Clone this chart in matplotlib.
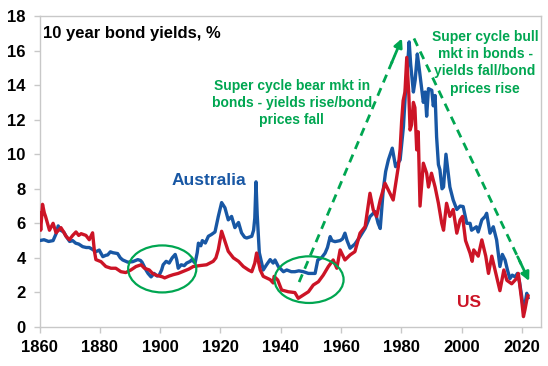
import matplotlib
matplotlib.use("Agg")
import matplotlib.pyplot as plt
from matplotlib.patches import Ellipse

plt.rcParams['font.family'] = ['Liberation Sans', 'DejaVu Sans']
plt.rcParams['font.weight'] = 'bold'

# ---------------- data ----------------
aus_years = [1860.0, 1861.5, 1863.0, 1864.5, 1865.5, 1866.2, 1867.0, 1868.0, 1869.0, 1870.0,
             1871.0, 1872.0, 1873.0, 1874.3, 1875.5, 1876.5, 1877.5, 1878.7, 1879.8, 1881.0,
             1882.0, 1882.6, 1883.5, 1884.3, 1885.9, 1886.8, 1887.6, 1889.3, 1890.9, 1892.6,
             1893.5, 1894.0, 1895.3, 1896.0, 1897.0, 1898.0, 1899.0, 1899.7, 1900.5, 1901.0,
             1902.0, 1903.0, 1904.0, 1905.0, 1905.5, 1906.0, 1907.0, 1908.0, 1908.8, 1910.0,
             1910.5, 1911.6, 1912.3, 1912.7, 1913.5, 1914.0, 1915.0, 1916.0, 1917.0, 1918.2,
             1919.3, 1920.4, 1921.5, 1922.6, 1923.7, 1924.8, 1926.0, 1927.0, 1928.0, 1928.7,
             1930.4, 1931.0, 1931.4, 1931.8, 1932.2, 1932.9, 1934.2, 1935.3, 1936.5, 1937.5,
             1938.1, 1939.2, 1940.9, 1942.0, 1943.5, 1944.7, 1946.0, 1947.5, 1949.2, 1951.4,
             1952.3, 1953.5, 1954.7, 1955.5, 1956.4, 1957.0, 1958.0, 1959.7, 1960.5, 1961.3,
             1962.0, 1963.0, 1964.6, 1966.3, 1968.0, 1969.6, 1971.3, 1972.3, 1973.0, 1974.0,
             1974.8, 1975.7, 1977.0, 1978.1, 1979.6, 1980.7, 1981.5, 1982.1, 1982.6, 1983.1,
             1984.0, 1984.6, 1985.3, 1985.9, 1986.6, 1987.3, 1987.9, 1988.4, 1989.0, 1990.1,
             1990.6, 1991.2, 1991.7, 1992.3, 1992.8, 1993.5, 1994.0, 1994.8, 1995.5, 1996.1,
             1997.2, 1998.4, 1999.5, 2000.5, 2001.7, 2002.8, 2003.3, 2004.9, 2005.5, 2006.7,
             2007.8, 2008.3, 2009.4, 2010.5, 2011.6, 2012.7, 2013.5, 2014.4, 2015.2, 2016.0,
             2016.8, 2017.7, 2018.5, 2019.2, 2019.9, 2020.5, 2021.0, 2021.6, 2022.0]
aus_vals = [5.0, 5.05, 4.95, 5.0, 5.4, 5.85, 5.6, 5.5, 5.2, 4.95,
            5.0, 4.85, 4.8, 4.65, 4.6, 4.6, 4.5, 4.36, 4.45, 4.07,
            4.15, 4.17, 4.35, 4.3, 4.25, 4.0, 3.88, 3.75, 3.78, 3.9,
            3.85, 3.75, 3.3, 3.1, 2.9, 3.1, 2.95, 3.0, 3.3, 3.6,
            3.8, 3.7, 4.0, 4.2, 3.9, 3.4, 3.6, 3.55, 3.7, 3.8,
            3.9, 3.7, 4.3, 4.85, 4.7, 5.0, 4.86, 5.25, 5.35, 5.5,
            6.4, 7.2, 6.9, 6.2, 6.4, 5.75, 6.05, 5.45, 5.2, 5.15,
            5.25, 5.6, 6.3, 8.4, 6.5, 4.3, 3.3, 3.6, 3.9, 3.7,
            3.88, 3.5, 3.2, 3.3, 3.2, 3.2, 3.25, 3.2, 3.1, 3.1,
            3.88, 4.0, 4.27, 4.6, 5.23, 5.0, 4.94, 5.0, 5.1, 5.43,
            5.0, 4.56, 4.8, 5.23, 5.71, 6.39, 6.68, 6.0, 5.7, 7.93,
            9.0, 9.67, 10.35, 9.28, 9.67, 11.6, 14.0, 15.2, 16.5, 15.2,
            13.6, 14.3, 15.8, 15.0, 14.0, 13.0, 13.6, 12.2, 13.8, 13.7,
            12.8, 13.4, 11.0, 9.4, 9.1, 8.0, 8.1, 10.0, 9.0, 8.1,
            7.35, 6.8, 7.0, 6.97, 6.0, 6.0, 5.6, 5.8, 5.5, 6.2,
            6.4, 6.58, 5.43, 5.8, 5.04, 3.5, 4.2, 3.88, 3.3, 2.8,
            3.0, 2.9, 3.1, 2.6, 1.8, 1.0, 1.3, 1.95, 1.7]

us_years = [1860.0, 1860.4, 1861.0, 1861.6, 1862.0, 1863.3, 1864.5, 1865.5, 1867.1, 1868.0,
            1868.8, 1869.9, 1871.0, 1872.1, 1873.0, 1873.8, 1875.4, 1876.5, 1877.6, 1878.2,
            1878.7, 1880.4, 1882.0, 1883.7, 1885.3, 1887.0, 1888.6, 1890.3, 1892.0, 1893.7,
            1894.8, 1896.4, 1897.5, 1898.6, 1900.8, 1901.5, 1903.0, 1904.4, 1906.0, 1907.7,
            1909.5, 1911.0, 1913.0, 1915.4, 1917.6, 1918.5, 1919.3, 1920.4, 1921.5, 1922.6,
            1924.3, 1926.0, 1927.6, 1929.3, 1930.4, 1931.4, 1932.0, 1933.2, 1934.2, 1936.5,
            1937.5, 1937.8, 1939.0, 1940.3, 1942.5, 1944.7, 1945.8, 1947.5, 1949.2, 1950.8,
            1952.5, 1954.1, 1955.8, 1957.4, 1958.6, 1959.7, 1961.3, 1963.0, 1964.6, 1966.3,
            1968.0, 1969.6, 1970.7, 1971.8, 1973.0, 1974.6, 1976.2, 1977.3, 1979.0, 1979.6,
            1980.1, 1980.6, 1981.2, 1981.8, 1982.5, 1982.9, 1983.4, 1984.0, 1984.5, 1985.1,
            1985.6, 1986.2, 1987.3, 1988.4, 1989.0, 1990.0, 1991.2, 1992.3, 1993.4, 1994.0,
            1995.0, 1996.1, 1997.2, 1998.4, 1999.5, 2000.3, 2001.3, 2002.8, 2003.5, 2004.0,
            2005.5, 2006.7, 2008.0, 2008.9, 2010.0, 2011.6, 2012.7, 2014.0, 2015.0, 2016.6,
            2018.3, 2018.8, 2019.9, 2020.5, 2021.0, 2021.6, 2022.0]
us_vals = [6.6, 5.6, 7.1, 6.6, 6.4, 5.6, 6.0, 5.45, 5.75, 5.5,
           5.25, 5.05, 5.3, 5.5, 5.3, 5.4, 5.3, 5.05, 5.45, 4.4,
           3.9, 3.78, 3.5, 3.4, 3.4, 3.2, 3.15, 3.3, 3.5, 3.6,
           3.4, 3.3, 3.1, 3.0, 2.9, 2.84, 2.95, 3.03, 3.1, 3.22,
           3.35, 3.5, 3.55, 3.6, 3.8, 4.0, 4.48, 5.54, 4.96, 4.38,
           4.0, 3.8, 3.5, 3.3, 3.2, 3.7, 4.28, 3.3, 2.93, 2.74,
           2.55, 2.93, 2.72, 2.14, 2.04, 1.99, 1.66, 1.85, 2.04, 2.43,
           2.62, 3.0, 3.5, 3.88, 3.4, 4.46, 3.88, 4.17, 4.36, 5.43,
           5.81, 7.74, 6.77, 6.4, 7.35, 8.32, 7.74, 7.35, 9.28, 10.3,
           11.9, 13.1, 13.6, 15.6, 13.4, 11.4, 11.7, 13.0, 12.7, 10.25,
           11.3, 7.0, 9.48, 8.9, 8.1, 8.9, 8.1, 7.16, 6.0, 5.6,
           7.16, 6.4, 6.8, 5.43, 6.2, 6.4, 5.0, 4.27, 3.8, 4.46,
           4.1, 5.04, 4.1, 3.1, 4.1, 2.9, 2.1, 3.3, 2.7, 2.5,
           2.82, 3.1, 1.56, 0.6, 1.0, 1.56, 1.8]

x_ticks = [1860, 1880, 1900, 1920, 1940, 1960, 1980, 2000, 2020]
y_ticks = [0, 2, 4, 6, 8, 10, 12, 14, 16, 18]

BLUE = '#1857A4'
RED = '#CC1426'
GREEN = '#00A651'
GRID = '#C8C8C8'

# ---------------- figure ----------------
fig = plt.figure(figsize=(5.48, 3.66), dpi=100)
ax = fig.add_axes([0.0721, 0.1066, 0.915, 0.8497])

ax.plot(aus_years, aus_vals, color=BLUE, lw=2.4, solid_joinstyle='round', zorder=3)
ax.plot(us_years, us_vals, color=RED, lw=2.4, solid_joinstyle='round', zorder=4)

ax.set_xlim(1860, 2026.3)
ax.set_ylim(0, 18)
ax.set_xticks(x_ticks)
ax.set_yticks(y_ticks)
for s in ax.spines.values():
    s.set_color(GRID)
    s.set_linewidth(1.0)
ax.tick_params(axis='both', direction='out', length=4.5, width=1.0, color=GRID,
               labelsize=12, labelcolor='black')
ax.tick_params(axis='x', pad=5)
ax.tick_params(axis='y', pad=5.5)
for lab in ax.get_xticklabels() + ax.get_yticklabels():
    lab.set_fontweight('bold')

# title inside
ax.text(0.007, 0.945, '10 year bond yields, %', transform=ax.transAxes,
        fontsize=12, fontweight='bold', color='black', ha='left', va='center')

# series labels
ax.text(1903.8, 8.47, 'Australia', color=BLUE, fontsize=12.5, fontweight='bold',
        ha='left', va='center')
ax.text(1998.6, 1.39, 'US', color=RED, fontsize=12.5, fontweight='bold',
        ha='left', va='center')

# green annotations
ax.text(1943.7, 12.97, 'Super cycle bear mkt in\nbonds - yields rise/bond\nprices fall',
        color=GREEN, fontsize=10, fontweight='bold', ha='center', va='center',
        multialignment='center', linespacing=1.3)
ax.text(2007.8, 15.3, 'Super cycle bull\nmkt in bonds -\nyields fall/bond\nprices rise',
        color=GREEN, fontsize=10, fontweight='bold', ha='center', va='center',
        multialignment='center', linespacing=1.3)

# dashed arrows
arrows = [((1946.1, 2.6), (1980.2, 16.7)), ((1984.2, 16.7), (2022.4, 2.66))]
for (x0, y0), (x1, y1) in arrows:
    ax.plot([x0, x0 + 0.93 * (x1 - x0)], [y0, y0 + 0.93 * (y1 - y0)], color=GREEN,
            lw=2.0, dashes=(3, 2.2), zorder=5)
    ax.annotate('', xy=(x1, y1), xytext=(x0 + 0.9 * (x1 - x0), y0 + 0.9 * (y1 - y0)),
                arrowprops=dict(arrowstyle='-|>,head_length=0.5,head_width=0.25',
                                color=GREEN, lw=2.0, shrinkA=0, shrinkB=0), zorder=5)

# ellipses
for (cx, cy, w, h) in [(1900.7, 3.36, 22.6, 2.72), (1949.4, 2.74, 22.9, 2.7)]:
    ax.add_patch(Ellipse((cx, cy), w, h, fill=False, edgecolor=GREEN, lw=1.6, zorder=6))

fig.savefig('out.png', dpi=100)
